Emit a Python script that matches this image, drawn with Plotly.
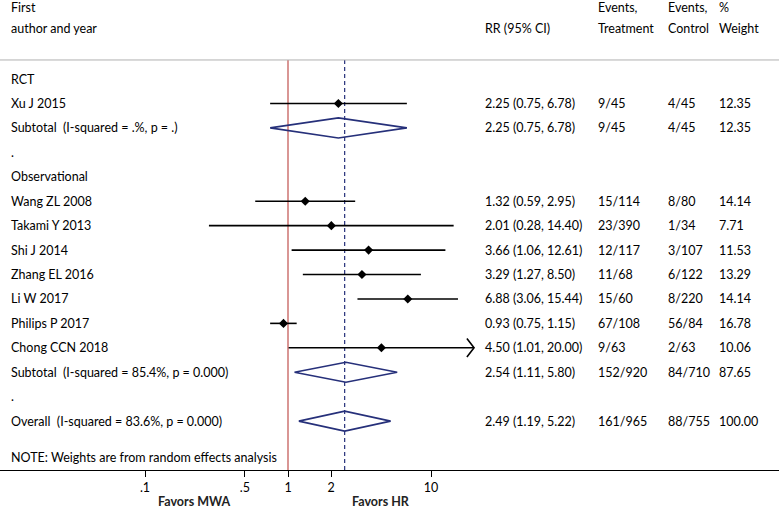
import math
import plotly.graph_objects as go

# ---------------- data ----------------
rct_studies = ["Xu J 2015"]
rct_rr = [2.25]
rct_lo = [0.75]
rct_hi = [6.78]
rct_trt = ["9/45"]
rct_ctl = ["4/45"]
rct_w = ["12.35"]

obs_studies = ["Wang ZL 2008", "Takami Y 2013", "Shi J 2014", "Zhang EL 2016",
               "Li W 2017", "Philips P 2017", "Chong CCN 2018"]
obs_rr = [1.32, 2.01, 3.66, 3.29, 6.88, 0.93, 4.50]
obs_lo = [0.59, 0.28, 1.06, 1.27, 3.06, 0.75, 1.01]
obs_hi = [2.95, 14.40, 12.61, 8.50, 15.44, 1.15, 20.00]
obs_trt = ["15/114", "23/390", "12/117", "11/68", "15/60", "67/108", "9/63"]
obs_ctl = ["8/80", "1/34", "3/107", "6/122", "8/220", "56/84", "2/63"]
obs_w = ["14.14", "7.71", "11.53", "13.29", "14.14", "16.78", "10.06"]

sub_labels = ["Subtotal  (I-squared = .%, p = .)",
              "Subtotal  (I-squared = 85.4%, p = 0.000)",
              "Overall  (I-squared = 83.6%, p = 0.000)"]
sub_rr = [2.25, 2.54, 2.49]
sub_lo = [0.75, 1.11, 1.19]
sub_hi = [6.78, 5.80, 5.22]
sub_trt = ["9/45", "152/920", "161/965"]
sub_ctl = ["4/45", "84/710", "88/755"]
sub_w = ["12.35", "87.65", "100.00"]

tick_vals = [0.1, 0.5, 1, 2, 10]
tick_text = [".1", ".5", "1", "2", "10"]
arrow_cut = [False, False, False, False, False, False, True]

# ---------------- layout constants ----------------
W, H = 779, 510
FONT = "Lato"
FS = 12.5
RED = "#c0504d"
NAVY = "#26307a"

col_x = {"label": 9, "rr": 483, "trt": 596, "ctl": 666, "w": 717}

fig = go.Figure()
ann = []


def txt(x_px, y, s, bold=False, size=FS):
    ann.append(dict(x=x_px / W, xref="paper", y=y, yref="y", text=("<b>%s</b>" % s) if bold else s,
                    showarrow=False, xanchor="left", yanchor="middle",
                    font=dict(family=FONT, size=size, color="black")))


def rr_str(r, l, h):
    return "%.2f (%.2f, %.2f)" % (r, l, h)


# build rows
rows = []  # (y, kind, payload)
y = 0
rows.append((y, "head", "RCT")); y += 1
for i in range(len(rct_studies)):
    rows.append((y, "study", (rct_studies[i], rct_rr[i], rct_lo[i], rct_hi[i], rct_trt[i], rct_ctl[i], rct_w[i], False))); y += 1
rows.append((y, "diamond", (sub_labels[0], sub_rr[0], sub_lo[0], sub_hi[0], sub_trt[0], sub_ctl[0], sub_w[0]))); y += 1
rows.append((y, "head", ".")); y += 1
rows.append((y, "head", "Observational")); y += 1
for i in range(len(obs_studies)):
    rows.append((y, "study", (obs_studies[i], obs_rr[i], obs_lo[i], obs_hi[i], obs_trt[i], obs_ctl[i], obs_w[i], arrow_cut[i]))); y += 1
rows.append((y, "diamond", (sub_labels[1], sub_rr[1], sub_lo[1], sub_hi[1], sub_trt[1], sub_ctl[1], sub_w[1]))); y += 1
rows.append((y, "head", ".")); y += 1
rows.append((y, "diamond", (sub_labels[2], sub_rr[2], sub_lo[2], sub_hi[2], sub_trt[2], sub_ctl[2], sub_w[2]))); y += 1
note_y = y + 0.5
axis_y = 16.0
top_line_y = -0.78
head1_y = -2.93
head2_y = -2.05

# reference lines
fig.add_trace(go.Scatter(x=[1, 1], y=[top_line_y, axis_y], mode="lines",
                         line=dict(color=RED, width=1.2), hoverinfo="skip", showlegend=False))
fig.add_trace(go.Scatter(x=[sub_rr[2], sub_rr[2]], y=[top_line_y, axis_y], mode="lines",
                         line=dict(color=NAVY, width=1.2, dash="4px,3px"), hoverinfo="skip", showlegend=False))

for (ry, kind, p) in rows:
    if kind == "head":
        txt(col_x["label"], ry, p)
    elif kind == "study":
        name, r, l, h, t, c, w, cut = p
        txt(col_x["label"], ry, name)
        fig.add_trace(go.Scatter(x=[l, h], y=[ry, ry], mode="lines",
                                 line=dict(color="black", width=1.6), hoverinfo="skip", showlegend=False))
        if cut:
            d = 10 ** (-0.05)
            fig.add_trace(go.Scatter(x=[h * d, h, h * d], y=[ry - 0.38, ry, ry + 0.38], mode="lines",
                                     line=dict(color="black", width=1.6), hoverinfo="skip", showlegend=False))
        fig.add_trace(go.Scatter(x=[r], y=[ry], mode="markers",
                                 marker=dict(symbol="diamond", size=7, color="black"),
                                 hoverinfo="skip", showlegend=False))
        txt(col_x["rr"], ry, rr_str(r, l, h))
        txt(col_x["trt"], ry, t)
        txt(col_x["ctl"], ry, c)
        txt(col_x["w"], ry, w)
    elif kind == "diamond":
        name, r, l, h, t, c, w = p
        txt(col_x["label"], ry, name)
        fig.add_trace(go.Scatter(x=[l, r, h, r, l], y=[ry, ry - 0.41, ry, ry + 0.41, ry], mode="lines",
                                 line=dict(color=NAVY, width=1.6), hoverinfo="skip", showlegend=False))
        txt(col_x["rr"], ry, rr_str(r, l, h))
        txt(col_x["trt"], ry, t)
        txt(col_x["ctl"], ry, c)
        txt(col_x["w"], ry, w)

txt(col_x["label"], note_y, "NOTE: Weights are from random effects analysis")

# headers
txt(col_x["label"], head1_y, "First")
txt(col_x["label"], head2_y, "author and year")
txt(col_x["rr"], head2_y, "RR (95% CI)")
txt(col_x["trt"], head1_y, "Events,")
txt(col_x["trt"], head2_y, "Treatment")
txt(col_x["ctl"], head1_y, "Events,")
txt(col_x["ctl"], head2_y, "Control")
txt(col_x["w"], head1_y, "%")
txt(col_x["w"], head2_y, "Weight")

# header separator line
ann_shapes = [dict(type="line", xref="paper", x0=0, x1=1, yref="y", y0=top_line_y, y1=top_line_y,
                   line=dict(color="#b0b0b0", width=1))]

# favors labels
plot_h = H - 40
for label, cx in [("Favors MWA", 194), ("Favors HR", 381)]:
    ann.append(dict(x=cx / W, xref="paper", y=-(501 - plot_h) / plot_h, yref="paper",
                    text="<b>%s</b>" % label, showarrow=False, xanchor="center", yanchor="middle",
                    font=dict(family=FONT, size=FS, color="#222")))

px1, px10 = 288, 431
dec = px10 - px1
xr = [(0 - px1) / dec, (W - px1) / dec]

fig.update_layout(
    width=W, height=H, margin=dict(l=0, r=0, t=0, b=40),
    paper_bgcolor="white", plot_bgcolor="white",
    annotations=ann, shapes=ann_shapes,
    xaxis=dict(type="log", range=xr, tickvals=tick_vals, ticktext=tick_text,
               showgrid=False, zeroline=False, showline=True, linecolor="black", linewidth=1,
               ticks="outside", ticklen=6, tickwidth=1, tickcolor="black",
               tickfont=dict(family=FONT, size=FS, color="black")),
    yaxis=dict(range=[axis_y, -3.234], visible=False, showgrid=False, zeroline=False),
    font=dict(family=FONT, size=FS),
)

fig.write_html("out.html", config={"displayModeBar": False},
               post_script="document.body.style.margin='0px';document.body.style.overflow='hidden';")
